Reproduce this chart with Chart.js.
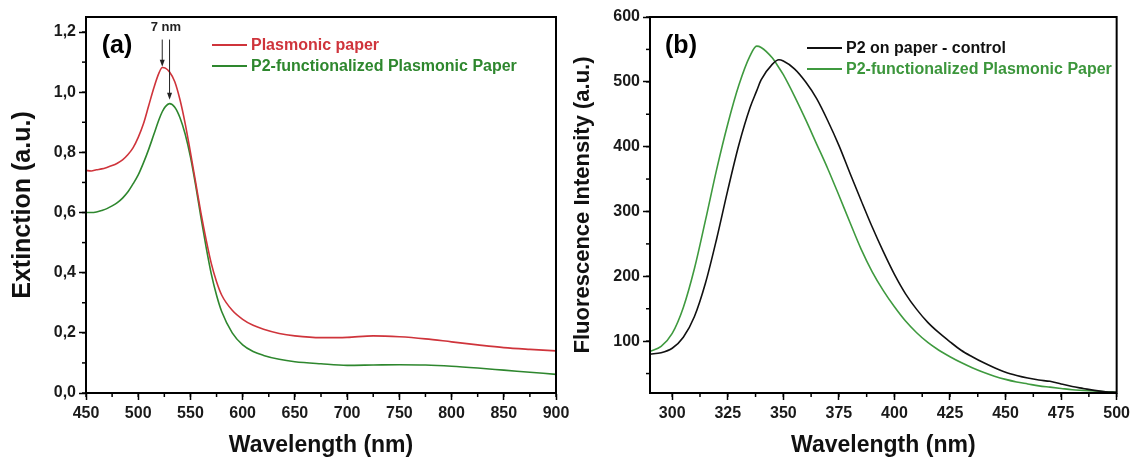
<!DOCTYPE html>
<html>
<head>
<meta charset="utf-8">
<script src="https://cdn.jsdelivr.net/npm/chart.js@4.4.1/dist/chart.umd.min.js"></script>
<style>
  body { margin: 0; background: #fff; }
  #wrap { position: relative; width: 1134px; height: 457px; background: #fff; }
  canvas { position: absolute; top: 0; }
</style>
</head>
<body>
<div id="wrap">
  <canvas id="chartA" width="580" height="457" style="left:0"></canvas>
  <canvas id="chartB" width="567" height="457" style="left:567px"></canvas>
</div>
<script>
// (a) extinction spectra
const wlA = [450,455,460,465,470,475,480,485,490,495,500,505,510,515,520,523,526,530,535,540,545,550,555,560,565,570,575,580,590,600,610,620,635,650,675,700,725,750,775,800,825,850,875,900];
const extPlasmonic = [0.740,0.738,0.742,0.745,0.750,0.756,0.764,0.775,0.792,0.815,0.850,0.895,0.955,1.015,1.065,1.082,1.080,1.067,1.035,0.975,0.895,0.800,0.700,0.600,0.510,0.430,0.370,0.325,0.275,0.245,0.225,0.212,0.198,0.190,0.184,0.185,0.190,0.187,0.180,0.170,0.160,0.151,0.145,0.140];
const extP2 = [0.600,0.600,0.602,0.607,0.613,0.622,0.633,0.648,0.668,0.695,0.725,0.765,0.810,0.860,0.910,0.935,0.952,0.962,0.950,0.915,0.860,0.785,0.690,0.585,0.485,0.395,0.325,0.270,0.200,0.160,0.138,0.125,0.112,0.104,0.097,0.092,0.093,0.094,0.093,0.089,0.083,0.076,0.069,0.062];
const xTicksA = [450,500,550,600,650,700,750,800,850,900];
const yTicksA = [0,0.2,0.4,0.6,0.8,1.0,1.2];
// 7 nm shift arrows
const shiftWl = [523, 530];
const shiftTo = [1.085, 0.975];

// (b) fluorescence spectra
const wlB = [290,295,300,305,310,315,320,325,330,335,338,340,345,348,350,355,360,365,370,375,380,385,390,395,400,405,410,415,420,425,430,435,440,445,450,455,460,465,470,475,480,485,490,495,500];
const flControl = [80,82,89,106,138,190,258,333,403,460,486,503,527,534,532,520,500,474,440,402,359,317,276,238,203,173,149,129,113,99,86,76,67,59,52,47,43,40,38,34,30,27,24,22,21];
const flP2 = [84,92,112,152,212,287,365,435,495,540,555,553,537,522,511,478,442,404,366,325,283,242,207,178,153,131,113,98,86,76,67,59,52,46,41,37,34,31,29,27,25,24,23,22,21];
const xTicksB = [300,325,350,375,400,425,450,475,500];
const yTicksB = [100,200,300,400,500,600];

const FONT = '"Liberation Sans", Arial, sans-serif';
Chart.defaults.font.family = FONT;
Chart.defaults.color = '#111';

const toXY = (xs, ys) => xs.map((x, i) => ({x: x, y: ys[i]}));

// frame, minor ticks, panel letter and legend
const framePlugin = {
  id: 'frame',
  afterDatasetsDraw(chart, args, o) {
    const {ctx, chartArea: a, scales: {x, y}} = chart;
    ctx.save();
    ctx.strokeStyle = '#000';
    ctx.lineWidth = 1.5;
    for (let k = Math.ceil(x.min / o.xMinor - 1e-9); k * o.xMinor <= x.max + 1e-9; k++) {
      const px = x.getPixelForValue(k * o.xMinor);
      ctx.beginPath(); ctx.moveTo(px, a.bottom); ctx.lineTo(px, a.bottom + 4); ctx.stroke();
    }
    for (let k = Math.ceil(y.min / o.yMinor - 1e-9); k * o.yMinor <= y.max + 1e-9; k++) {
      const py = y.getPixelForValue(k * o.yMinor);
      ctx.beginPath(); ctx.moveTo(a.left, py); ctx.lineTo(a.left - 4, py); ctx.stroke();
    }
    ctx.lineWidth = 2;
    ctx.strokeRect(a.left, a.top, a.right - a.left, a.bottom - a.top);

    ctx.fillStyle = '#000';
    ctx.font = 'bold 25px ' + FONT;
    ctx.textAlign = 'center';
    ctx.textBaseline = 'middle';
    ctx.fillText(o.letter, a.left + 31, a.top + 29);

    ctx.font = 'bold 16px ' + FONT;
    ctx.textAlign = 'left';
    chart.data.datasets.forEach((ds, i) => {
      const ly = o.legendY + i * o.legendGap;
      ctx.strokeStyle = ds.borderColor;
      ctx.lineWidth = 2;
      ctx.beginPath(); ctx.moveTo(o.legendX, ly); ctx.lineTo(o.legendX + 35, ly); ctx.stroke();
      ctx.fillStyle = ds.textColor || ds.borderColor;
      ctx.fillText(ds.label, o.legendX + 39, ly + 1);
    });
    ctx.restore();
  }
};

// arrows marking the peak shift in (a)
const shiftPlugin = {
  id: 'shift',
  afterDatasetsDraw(chart, args, o) {
    const {ctx, scales: {x, y}} = chart;
    ctx.save();
    ctx.strokeStyle = '#222';
    ctx.fillStyle = '#222';
    ctx.lineWidth = 1;
    o.wl.forEach((w, i) => {
      const px = x.getPixelForValue(w);
      const y0 = y.getPixelForValue(o.from);
      const y1 = y.getPixelForValue(o.to[i]);
      ctx.beginPath(); ctx.moveTo(px, y0); ctx.lineTo(px, y1 - 4); ctx.stroke();
      ctx.beginPath(); ctx.moveTo(px - 2.5, y1 - 7); ctx.lineTo(px + 2.5, y1 - 7); ctx.lineTo(px, y1); ctx.closePath(); ctx.fill();
    });
    ctx.font = 'bold 13px ' + FONT;
    ctx.textAlign = 'center';
    ctx.textBaseline = 'middle';
    ctx.fillText(o.text, x.getPixelForValue((o.wl[0] + o.wl[1]) / 2), y.getPixelForValue(o.textY));
    ctx.restore();
  }
};

function axes(c) {
  return {
    x: {
      type: 'linear', min: c.xMin, max: c.xMax,
      ticks: {stepSize: c.xStep, font: {size: 16, weight: 'bold'}, color: '#1a1a1a', padding: 4, maxRotation: 0, autoSkip: false},
      afterBuildTicks: s => { s.ticks = c.xTicks.map(v => ({value: v})); },
      afterFit: s => { s.height = 64; },
      grid: {drawOnChartArea: false, tickLength: 7, tickWidth: 1.5, tickColor: '#000'},
      border: {color: '#000', width: 2},
      title: {display: true, text: 'Wavelength (nm)', color: '#111', font: {size: 23, weight: 'bold', lineHeight: 1}, padding: 0}
    },
    y: {
      type: 'linear', min: c.yMin, max: c.yMax,
      ticks: {stepSize: c.yStep, font: {size: 16, weight: 'bold'}, color: '#1a1a1a', padding: 3, autoSkip: false, callback: c.yFmt},
      afterBuildTicks: s => { s.ticks = c.yTicks.map(v => ({value: v})); },
      afterFit: s => { s.width = c.yWidth; },
      grid: {drawOnChartArea: false, tickLength: 7, tickWidth: 1.5, tickColor: '#000'},
      border: {color: '#000', width: 2},
      title: {display: true, text: c.yTitle, color: '#111', font: {size: c.yTitleSize, weight: 'bold', lineHeight: 1}, padding: {top: c.yTitlePad, bottom: 0}}
    }
  };
}

const line = {pointRadius: 0, borderWidth: 1.6, fill: false, cubicInterpolationMode: 'monotone'};

new Chart(document.getElementById('chartA'), {
  type: 'line',
  data: {
    datasets: [
      Object.assign({label: 'Plasmonic paper', data: toXY(wlA, extPlasmonic), borderColor: '#cf343b'}, line),
      Object.assign({label: 'P2-functionalized Plasmonic Paper', data: toXY(wlA, extP2), borderColor: '#2e872e'}, line)
    ]
  },
  options: {
    responsive: false, devicePixelRatio: 1, animation: false,
    layout: {padding: {top: 17, right: 24, left: 0, bottom: 0}},
    scales: axes({
      xMin: 450, xMax: 900, xStep: 50, xTicks: xTicksA,
      yMin: 0, yMax: 1.25, yStep: 0.2, yTicks: yTicksA,
      yFmt: v => v.toFixed(1).replace('.', ','),
      yWidth: 86, yTitle: 'Extinction (a.u.)', yTitleSize: 25, yTitlePad: 11
    }),
    plugins: {
      legend: {display: false}, tooltip: {enabled: false},
      frame: {letter: '(a)', xMinor: 25, yMinor: 0.1, legendX: 212, legendY: 45, legendGap: 21},
      shift: {wl: shiftWl, to: shiftTo, from: 1.175, textY: 1.215, text: '7 nm'}
    }
  },
  plugins: [framePlugin, shiftPlugin]
});

new Chart(document.getElementById('chartB'), {
  type: 'line',
  data: {
    datasets: [
      Object.assign({label: 'P2 on paper - control', data: toXY(wlB, flControl), borderColor: '#111111'}, line),
      Object.assign({label: 'P2-functionalized Plasmonic Paper', data: toXY(wlB, flP2), borderColor: '#3f9a3f', textColor: '#3c963c'}, line)
    ]
  },
  options: {
    responsive: false, devicePixelRatio: 1, animation: false,
    layout: {padding: {top: 17, right: 14, left: 0, bottom: 0}},
    scales: axes({
      xMin: 290, xMax: 500, xStep: 25, xTicks: xTicksB,
      yMin: 20, yMax: 600, yStep: 100, yTicks: yTicksB,
      yFmt: v => String(v),
      yWidth: 83, yTitle: 'Fluorescence Intensity (a.u.)', yTitleSize: 22, yTitlePad: 5
    }),
    plugins: {
      legend: {display: false}, tooltip: {enabled: false},
      frame: {letter: '(b)', xMinor: 12.5, yMinor: 50, legendX: 240, legendY: 48, legendGap: 21}
    }
  },
  plugins: [framePlugin]
});
</script>
</body>
</html>
